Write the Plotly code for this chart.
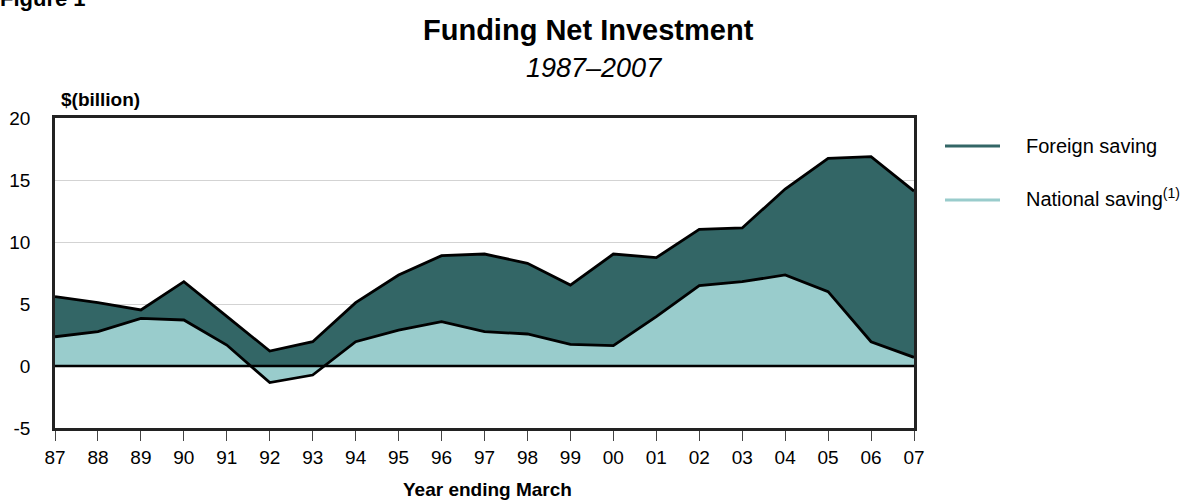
import plotly.graph_objects as go

years = list(range(1987, 2008))
year_labels = ["87", "88", "89", "90", "91", "92", "93", "94", "95", "96", "97",
               "98", "99", "00", "01", "02", "03", "04", "05", "06", "07"]
national_saving = [2.36, 2.77, 3.84, 3.71, 1.69, -1.34, -0.73, 1.96, 2.90, 3.58, 2.77,
                   2.58, 1.75, 1.64, 3.98, 6.48, 6.80, 7.34, 6.00, 1.96, 0.70]
foreign_saving = [3.23, 2.34, 0.68, 3.09, 2.31, 2.55, 2.69, 3.15, 4.44, 5.32, 6.26,
                  5.70, 4.78, 7.39, 4.76, 4.54, 4.33, 6.93, 10.75, 14.92, 13.41]
y_ticks = [-5, 0, 5, 10, 15, 20]
y_tick_labels = ["-5", "0", "5", "10", "15", "20"]

total = [n + f for n, f in zip(national_saving, foreign_saving)]

DARK = "#336666"
LIGHT = "#99CCCC"
FONT = "Arial, Liberation Sans, sans-serif"

fig = go.Figure()
fig.add_trace(go.Scatter(
    x=years, y=total, mode="lines", fill="tozeroy", fillcolor=DARK,
    line=dict(color="black", width=2.8), showlegend=False, hoverinfo="skip"))
fig.add_trace(go.Scatter(
    x=years, y=national_saving, mode="lines", fill="tozeroy", fillcolor=LIGHT,
    line=dict(color="black", width=2.8), showlegend=False, hoverinfo="skip"))

L, R, T, B = 55, 273, 118, 72
W, H = 1187, 500
pw, ph = W - L - R, H - T - B


def px(x):
    return (x - L) / pw


def py(y):
    return (H - B - y) / ph


fig.update_layout(
    width=W, height=H,
    margin=dict(l=L, r=R, t=T, b=B, autoexpand=False),
    paper_bgcolor="white", plot_bgcolor="white",
    font=dict(family=FONT, color="black"),
    showlegend=False,
    xaxis=dict(range=[1987, 2007], tickvals=years, ticktext=year_labels,
               ticks="outside", ticklen=10, tickcolor="#444", tickwidth=1,
               showgrid=False, zeroline=False,
               showline=True, linecolor="#222", linewidth=2.5, mirror=True,
               tickfont=dict(size=19, family=FONT)),
    yaxis=dict(range=[-5, 20], tickvals=y_ticks, ticktext=y_tick_labels, ticks="",
               showgrid=True, gridcolor="#d3d3d3", gridwidth=1,
               zeroline=False,
               showline=True, linecolor="#222", linewidth=2.5, mirror=True,
               ticklabelstandoff=18,
               tickfont=dict(size=19, family=FONT)),
)

# zero line on top of the fills
fig.add_shape(type="line", xref="paper", yref="y", x0=0, x1=1, y0=0, y1=0,
              line=dict(color="black", width=2.5), layer="above")

# legend drawn as line swatches + text
fig.add_shape(type="line", xref="paper", yref="paper", x0=px(945), x1=px(1000),
              y0=py(146), y1=py(146), line=dict(color=DARK, width=3))
fig.add_shape(type="line", xref="paper", yref="paper", x0=px(945), x1=px(1000),
              y0=py(200), y1=py(200), line=dict(color=LIGHT, width=3))

annots = [
    dict(text="Foreign saving", x=px(1024), y=py(146), xanchor="left", yanchor="middle",
         font=dict(size=20)),
    dict(text="National saving<sup>(1)</sup>", x=px(1024), y=py(197), xanchor="left",
         yanchor="middle", font=dict(size=20)),
    dict(text="<b>Funding Net Investment</b>", x=px(588), y=py(30), xanchor="center",
         yanchor="middle", font=dict(size=29)),
    dict(text="<i>1987–2007</i>", x=px(594), y=py(68), xanchor="center",
         yanchor="middle", font=dict(size=27)),
    dict(text="<b>$(billion)</b>", x=px(59), y=py(99), xanchor="left",
         yanchor="middle", font=dict(size=19)),
    dict(text="<b>Year ending March</b>", x=px(487), y=py(489), xanchor="center",
         yanchor="middle", font=dict(size=19)),
    dict(text="<b>Figure 1</b>", x=px(-2), y=py(13), xanchor="left",
         yanchor="bottom", font=dict(size=22)),
]
for a in annots:
    fig.add_annotation(xref="paper", yref="paper", showarrow=False, **a)

fig.write_html("out.html", config={"displayModeBar": False},
               post_script="document.body.style.margin='0px';")
